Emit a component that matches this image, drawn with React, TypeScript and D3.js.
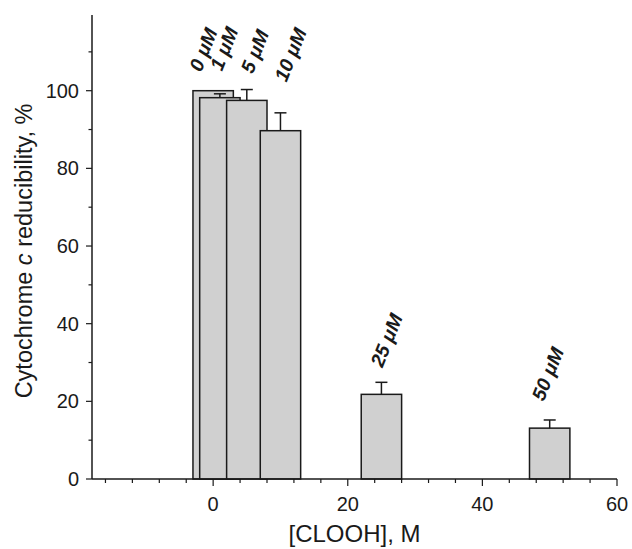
import React, { useEffect, useRef } from 'react';
import * as d3 from 'd3';

// [CLOOH] in µM, one bar each
const concentrations = [0, 1, 5, 10, 25, 50];
const reducibility = [100, 98.2, 97.5, 89.7, 21.8, 13.1];
const errors = [0, 1.0, 2.8, 4.6, 3.1, 2.1];
const barLabels = ['0 μM', '1 μM', '5 μM', '10 μM', '25 μM', '50 μM'];

const yMajorTicks = [0, 20, 40, 60, 80, 100];
const yMinorTicks = [10, 30, 50, 70, 90, 110];
const xMajorTicks = [0, 20, 40, 60];
const xMinorTicks = [-16, -12, -8, -4, 4, 8, 12, 16, 24, 28, 32, 36, 44, 48, 52, 56];

export default function App() {
  const ref = useRef<SVGSVGElement>(null);

  useEffect(() => {
    const svg = d3.select(ref.current);
    svg.selectAll('*').remove();

    const font = '"Liberation Sans", Arial, Helvetica, sans-serif';
    const ink = '#1a1a1a';

    const x = d3.scaleLinear().domain([-18, 60]).range([92, 617]);
    const y = d3.scaleLinear().domain([0, 100]).range([479, 90.7]);
    const halfWidth = 3;

    // label nudges, the labels in the figure were placed by hand
    const nudge = [
      [-12, -18],
      [2, -22],
      [6, -15],
      [6, -30],
      [1, -14],
      [-6, -18],
    ];

    const g = svg.append('g');

    concentrations.forEach((c, i) => {
      const top = reducibility[i];
      g.append('rect')
        .attr('x', x(c - halfWidth))
        .attr('y', y(top))
        .attr('width', x(c + halfWidth) - x(c - halfWidth))
        .attr('height', y(0) - y(top))
        .attr('fill', '#d0d0d0')
        .attr('stroke', ink)
        .attr('stroke-width', 1.5);

      if (errors[i] > 0) {
        const hi = y(top + errors[i]);
        g.append('line')
          .attr('x1', x(c)).attr('x2', x(c))
          .attr('y1', y(top)).attr('y2', hi)
          .attr('stroke', ink).attr('stroke-width', 1.5);
        g.append('line')
          .attr('x1', x(c) - 6).attr('x2', x(c) + 6)
          .attr('y1', hi).attr('y2', hi)
          .attr('stroke', ink).attr('stroke-width', 1.5);
      }
    });

    concentrations.forEach((c, i) => {
      const ax = x(c) + nudge[i][0];
      const ay = y(reducibility[i] + errors[i]) + nudge[i][1];
      g.append('text')
        .attr('transform', `translate(${ax},${ay}) rotate(-68)`)
        .attr('font-family', font)
        .attr('font-size', 19.5)
        .attr('font-weight', 'bold')
        .attr('font-style', 'italic')
        .attr('fill', ink)
        .text(barLabels[i]);
    });

    // axes
    const yTop = y(119.5);
    svg.append('line')
      .attr('x1', x(-18)).attr('x2', x(-18))
      .attr('y1', y(0)).attr('y2', yTop)
      .attr('stroke', ink).attr('stroke-width', 1.5);
    svg.append('line')
      .attr('x1', x(-18)).attr('x2', x(60))
      .attr('y1', y(0)).attr('y2', y(0))
      .attr('stroke', ink).attr('stroke-width', 1.5);

    svg.selectAll('.ymaj')
      .data(yMajorTicks)
      .enter()
      .append('line')
      .attr('x1', x(-18) - 6).attr('x2', x(-18))
      .attr('y1', (d) => y(d)).attr('y2', (d) => y(d))
      .attr('stroke', ink).attr('stroke-width', 1.2);

    svg.selectAll('.ymin')
      .data(yMinorTicks)
      .enter()
      .append('line')
      .attr('x1', x(-18) - 3.5).attr('x2', x(-18))
      .attr('y1', (d) => y(d)).attr('y2', (d) => y(d))
      .attr('stroke', ink).attr('stroke-width', 1.2);

    svg.selectAll('.ylab')
      .data(yMajorTicks)
      .enter()
      .append('text')
      .attr('x', 79)
      .attr('y', (d) => y(d))
      .attr('dy', '0.35em')
      .attr('text-anchor', 'end')
      .attr('font-family', font)
      .attr('font-size', 20)
      .attr('fill', ink)
      .text((d) => d);

    svg.selectAll('.xmaj')
      .data(xMajorTicks)
      .enter()
      .append('line')
      .attr('x1', (d) => x(d)).attr('x2', (d) => x(d))
      .attr('y1', y(0)).attr('y2', y(0) + 7)
      .attr('stroke', ink).attr('stroke-width', 1.2);

    svg.selectAll('.xmin')
      .data(xMinorTicks)
      .enter()
      .append('line')
      .attr('x1', (d) => x(d)).attr('x2', (d) => x(d))
      .attr('y1', y(0)).attr('y2', y(0) + 4)
      .attr('stroke', ink).attr('stroke-width', 1.2);

    svg.selectAll('.xlab')
      .data(xMajorTicks)
      .enter()
      .append('text')
      .attr('x', (d) => x(d))
      .attr('y', 511)
      .attr('text-anchor', 'middle')
      .attr('font-family', font)
      .attr('font-size', 20)
      .attr('fill', ink)
      .text((d) => d);

    svg.append('text')
      .attr('x', (x(-18) + x(60)) / 2)
      .attr('y', 542)
      .attr('text-anchor', 'middle')
      .attr('font-family', font)
      .attr('font-size', 24)
      .attr('fill', ink)
      .text('[CLOOH], M');

    const yt = svg.append('text')
      .attr('transform', `translate(32, ${(y(0) + yTop) / 2 + 4}) rotate(-90)`)
      .attr('text-anchor', 'middle')
      .attr('font-family', font)
      .attr('font-size', 23.5)
      .attr('fill', ink);
    yt.append('tspan').text('Cytochrome ');
    yt.append('tspan').attr('font-style', 'italic').text('c');
    yt.append('tspan').text(' reducibility, %');
  }, []);

  return (
    <svg
      ref={ref}
      width={632}
      height={549}
      style={{ position: 'absolute', left: 0, top: 0, background: '#fff' }}
    />
  );
}
